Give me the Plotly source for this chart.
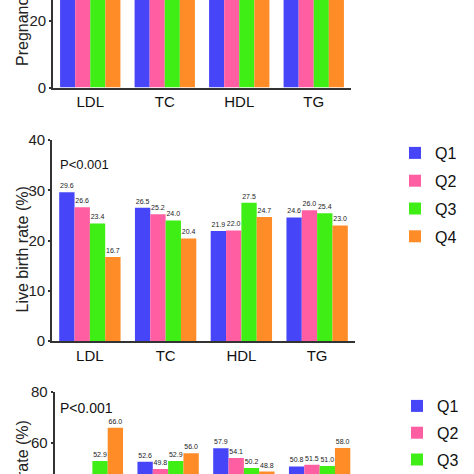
import plotly.graph_objects as go

W = H = 474
categories = ["LDL", "TC", "HDL", "TG"]
groups = ["Q1", "Q2", "Q3", "Q4"]
colors = ["#4646F8", "#FF5FA2", "#3EEE14", "#FF8C26"]

# Top panel (pregnancy rate) - bars extend beyond the visible crop; values estimated
preg = {
    "Q1": [45.0, 44.0, 42.0, 43.0],
    "Q2": [44.0, 43.0, 42.0, 44.0],
    "Q3": [42.0, 42.0, 46.0, 43.0],
    "Q4": [36.0, 40.0, 44.0, 41.0],
}
# Middle panel: live birth rate
live = {
    "Q1": [29.6, 26.5, 21.9, 24.6],
    "Q2": [26.6, 25.2, 22.0, 26.0],
    "Q3": [23.4, 24.0, 27.5, 25.4],
    "Q4": [16.7, 20.4, 24.7, 23.0],
}
# Bottom panel
bottom = {
    "Q1": [46.2, 52.6, 57.9, 50.8],
    "Q2": [46.4, 49.8, 54.1, 51.5],
    "Q3": [52.9, 52.9, 50.2, 51.0],
    "Q4": [66.0, 56.0, 48.8, 58.0],
}

FONT = "Liberation Sans, Arial, sans-serif"

def px(x):
    return x / W

def py(y):
    return 1 - y / H

fig = go.Figure()

for i, g in enumerate(groups):
    fig.add_trace(go.Bar(x=categories, y=preg[g], name=g, marker_color=colors[i],
                         marker_line_width=0, showlegend=False, legendgroup=g,
                         xaxis="x", yaxis="y", cliponaxis=False))
    fig.add_trace(go.Bar(x=categories, y=live[g], name=g, marker_color=colors[i],
                         marker_line_width=0, showlegend=True, legendgroup=g, legend="legend",
                         text=[f"{v:.1f}" for v in live[g]], textposition="outside",
                         textfont=dict(size=7, color="#222", family=FONT),
                         constraintext="none", cliponaxis=False,
                         xaxis="x2", yaxis="y2"))
    fig.add_trace(go.Bar(x=categories, y=bottom[g], name=g, marker_color=colors[i],
                         marker_line_width=0, showlegend=True, legendgroup=g, legend="legend2",
                         text=[f"{v:.1f}" for v in bottom[g]], textposition="outside",
                         textfont=dict(size=7, color="#222", family=FONT),
                         constraintext="none", cliponaxis=False,
                         xaxis="x3", yaxis="y3"))

axcommon = dict(showline=True, linecolor="#333", linewidth=1.6, showgrid=False,
                zeroline=False, tickfont=dict(size=15, color="#222", family=FONT))

xcommon = dict(axcommon, type="category", range=[-0.5, 3.5], ticks="", tickfont=dict(size=15, color="#111", family=FONT))
ycommon = dict(axcommon, ticks="outside", ticklen=2, tickwidth=1.5, tickcolor="#333")

fig.update_layout(
    width=W, height=H, margin=dict(l=0, r=0, t=0, b=0, autoexpand=False),
    paper_bgcolor="white", plot_bgcolor="white",
    barmode="group", bargap=0.19, bargroupgap=0,
    font=dict(family=FONT, color="#222"),
    xaxis=dict(xcommon, domain=[px(53), px(351)], anchor="y"),
    yaxis=dict(ycommon, domain=[py(87.5), 1], range=[0, 26.3], dtick=20, anchor="x"),
    xaxis2=dict(xcommon, domain=[px(52), px(355)], anchor="y2"),
    yaxis2=dict(ycommon, domain=[py(341), py(140)], range=[0, 40], dtick=10, anchor="x2"),
    xaxis3=dict(xcommon, domain=[px(54.5), px(357.5)], anchor="y3", showline=False, showticklabels=False),
    yaxis3=dict(ycommon, domain=[0, py(392)], range=[80 - 82 / 2.55, 80], dtick=20, anchor="x3"),
    legend=dict(x=px(395), y=py(136), xanchor="left", yanchor="top",
                font=dict(size=16, color="#111", family=FONT), tracegroupgap=4,
                bgcolor="rgba(0,0,0,0)", maxheight=1),
    legend2=dict(x=px(397), y=py(389), xanchor="left", yanchor="top",
                 font=dict(size=16, color="#111", family=FONT), tracegroupgap=3,
                 bgcolor="rgba(0,0,0,0)", maxheight=1),
    annotations=[
        dict(text="Pregnancy rate (%)", textangle=-90, x=px(22), y=py(68), xref="paper", yref="paper",
             xanchor="center", yanchor="bottom", showarrow=False, font=dict(size=16, color="#222", family=FONT)),
        dict(text="Live birth rate (%)", textangle=-90, x=px(22), y=py(249.5), xref="paper", yref="paper",
             xanchor="center", yanchor="middle", showarrow=False, font=dict(size=16, color="#222", family=FONT)),
        dict(text="Cesarean section rate (%)", textangle=-90, x=px(22), y=py(418), xref="paper", yref="paper",
             xanchor="center", yanchor="top", showarrow=False, font=dict(size=16, color="#222", family=FONT)),
        dict(text="P<0.001", x=px(58), y=py(164), xref="paper", yref="paper",
             xanchor="left", yanchor="middle", showarrow=False, font=dict(size=13, color="#111", family=FONT)),
        dict(text="P<0.001", x=px(58), y=py(408), xref="paper", yref="paper",
             xanchor="left", yanchor="middle", showarrow=False, font=dict(size=14, color="#111", family=FONT)),
    ],
)

fig.write_html("out.html", config={"displayModeBar": False},
               post_script="document.body.style.margin='0';document.body.style.overflow='hidden';")
